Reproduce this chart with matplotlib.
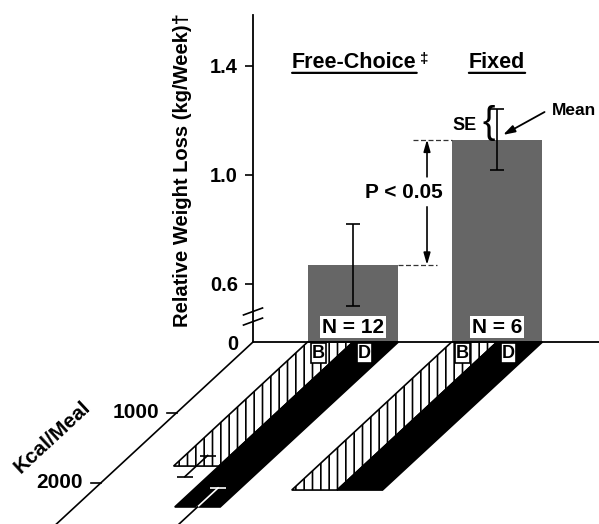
import matplotlib
matplotlib.use("Agg")
import matplotlib.pyplot as plt
from matplotlib.patches import Polygon
from matplotlib.transforms import Affine2D
import numpy as np

# weight loss per group (kg/week)
groups = ["Free-Choice", "Fixed"]
loss_mean = [0.67, 1.13]
loss_se = [0.15, 0.112]
n_subj = [12, 6]
# meal size (kcal/meal) for breakfast (B) and dinner (D)
bkf_kcal = [1760, 2100]
bkf_se = [150, 0]
din_kcal = [2340, 2100]
din_se = [270, 0]
yticks = [0.6, 1.0, 1.4]
kcal_ticks = [1000, 2000]

plt.rcParams["font.family"] = ["Liberation Sans", "DejaVu Sans"]
plt.rcParams["font.weight"] = "bold"
plt.rcParams["hatch.linewidth"] = 1.2

W, H = 599, 524
fig = plt.figure(figsize=(W / 100, H / 100), dpi=100)
ax = fig.add_axes([253 / W, (H - 342) / H, (W - 253) / W, (342 - 15) / H])

ybase = 0.387          # where the broken axis puts "0"
xlim = (-0.694, 1.708)
ylim = (ybase, 1.587)
px_x = (W - 253) / (xlim[1] - xlim[0])
px_y = (342 - 15) / (ylim[1] - ylim[0])

# oblique projection for the kcal/meal axis (goes down-left from the origin)
k = 0.0705             # px per kcal
slant = 1.08
depth = Affine2D(np.array([[1, -slant * k / px_x, 0],
                           [0, -k / px_y, ybase],
                           [0, 0, 1]])) + ax.transData

x = np.arange(len(groups))
w = 0.63
gray = "#666666"


def depth_err(xe, lo, hi, col):
    ax.plot([xe, xe], [lo, hi], transform=depth, color=col, lw=1.2, clip_on=False, zorder=3)


def depth_cap(xe, d, col):
    ax.plot([xe], [d], transform=depth, ls="none", marker="_", ms=11, mew=1.2,
            color=col, clip_on=False, zorder=3)


ax.bar(x, np.array(loss_mean) - ybase, bottom=ybase, width=w, color=gray, zorder=2)
ax.errorbar(x, loss_mean, yerr=loss_se, fmt="none", ecolor="black",
            elinewidth=1.2, capsize=4.7, capthick=1.2, zorder=3)

for i in range(len(groups)):
    ax.text(x[i], 0.442, f"N = {n_subj[i]}", ha="center", va="center", fontsize=15,
            bbox=dict(boxstyle="square,pad=0.08", fc="white", ec="none"), zorder=4)

# depth strips
for i in range(len(groups)):
    xl, xm, xr = x[i] - w / 2, x[i], x[i] + w / 2
    pb = Polygon([(xl, 0), (xm, 0), (xm, bkf_kcal[i]), (xl, bkf_kcal[i])],
                 closed=True, transform=depth, facecolor="white", edgecolor="black",
                 hatch="||", lw=1.2, clip_on=False, zorder=2)
    ax.add_patch(pb)
    pd = Polygon([(xm, 0), (xr, 0), (xr, din_kcal[i]), (xm, din_kcal[i])],
                 closed=True, transform=depth, facecolor="black", edgecolor="black",
                 lw=1.2, clip_on=False, zorder=2)
    ax.add_patch(pd)

    if bkf_se[i] > 0:
        xe = x[i] - w / 4
        depth_err(xe, bkf_kcal[i] - bkf_se[i], bkf_kcal[i] + bkf_se[i], "black")
        depth_cap(xe, bkf_kcal[i] - bkf_se[i], "black")
        depth_cap(xe, bkf_kcal[i] + bkf_se[i], "black")
    if din_se[i] > 0:
        # white where it sits on the black strip, black below it
        xe = x[i] + w / 4
        depth_err(xe, din_kcal[i] - din_se[i], din_kcal[i], "white")
        depth_cap(xe, din_kcal[i] - din_se[i], "white")
        depth_err(xe, din_kcal[i], din_kcal[i] + din_se[i], "black")
        depth_cap(xe, din_kcal[i] + din_se[i], "black")

    for lab, off in (("B", -0.24), ("D", 0.08)):
        ax.text(x[i] + off, ybase - 11 / px_y, lab, ha="center", va="center", fontsize=13,
                bbox=dict(boxstyle="square,pad=0.06", fc="white", ec="black", lw=1.2), zorder=5)

# kcal/meal axis
xa = xlim[0]
ax.plot([xa, xa], [0, 2700], transform=depth, color="black", lw=1.2, clip_on=False)
for t in kcal_ticks:
    ax.plot([xa - 10 / px_x, xa], [t, t], transform=depth, color="black", lw=1.2, clip_on=False)
    ax.annotate(f"{t}", xy=(xa, t), xycoords=depth, xytext=(-18 * 0.72, 0),
                textcoords="offset points", ha="right", va="center", fontsize=15)
ax.annotate("Kcal/Meal", xy=(xa, 1348), xycoords=depth, xytext=(-98 * 0.72, 0),
            textcoords="offset points", ha="center", va="center", fontsize=15,
            rotation=42.8, rotation_mode="anchor")

# group titles
t1 = ax.text(0.01, 1.393, groups[0], ha="center", va="baseline", fontsize=15.5)
ax.annotate("\u2021", xy=(1, 1), xycoords=t1, xytext=(2, 0), textcoords="offset points",
            ha="left", va="top", fontsize=11)
t2 = ax.text(1.0, 1.393, groups[1], ha="center", va="baseline", fontsize=15.5)
for t in (t1, t2):
    ax.annotate("", xy=(0, 0.0), xycoords=t, xytext=(1, 0.0), textcoords=t,
                arrowprops=dict(arrowstyle="-", lw=1.6, color="black", shrinkA=0, shrinkB=0))

# significance bracket
ax.plot([x[0] + w / 2, 0.583], [loss_mean[0]] * 2, ls=(0, (4, 2)), lw=0.9, color="#333333")
ax.plot([0.417, x[1] - w / 2], [loss_mean[1]] * 2, ls=(0, (4, 2)), lw=0.9, color="#333333")
head = dict(arrowstyle="-|>,head_length=0.7,head_width=0.2", lw=1.2, color="black",
            shrinkA=0, shrinkB=0)
ax.annotate("", xy=(0.514, loss_mean[1]), xytext=(0.514, 0.993), arrowprops=head)
ax.annotate("", xy=(0.514, loss_mean[0]), xytext=(0.514, 0.883), arrowprops=head)
ax.text(0.35, 0.937, "P < 0.05", ha="center", va="center", fontsize=15)

# SE / Mean key on the Fixed bar
ax.text(0.778, 1.18, "SE", ha="center", va="center", fontsize=13)
ax.text(0.944, 1.19, "{", ha="center", va="center", fontsize=27, fontweight="normal")
ax.annotate("", xy=(1.042, 1.147), xytext=(1.33, 1.231),
            arrowprops=dict(arrowstyle="-|>,head_length=0.7,head_width=0.22", lw=1.3,
                            color="black", shrinkA=0, shrinkB=0))
ax.text(1.38, 1.235, "Mean", ha="left", va="center", fontsize=12.5)

# axis break marks
for yb in (0.499, 0.462):
    ax.plot([xa - 0.066, xa + 0.066], [yb - 0.0128, yb + 0.0128], color="black",
            lw=1.2, clip_on=False)

ax.set_yticks([ybase] + yticks)
ax.set_yticklabels(["0"] + [f"{v:.1f}" for v in yticks], fontsize=14.5, fontweight="bold")
ax.yaxis.get_major_ticks()[0].tick1line.set_visible(False)
ax.tick_params(axis="y", direction="out", length=5.8, width=1.2, pad=5)
ax.set_xticks([])
for s in ("top", "right"):
    ax.spines[s].set_visible(False)
for s in ("left", "bottom"):
    ax.spines[s].set_linewidth(1.3)
ax.set_xlim(*xlim)
ax.set_ylim(*ylim)

fig.text(183 / W, 1 - 170 / H, "Relative Weight Loss (kg/Week)\u2020", rotation=90,
         ha="center", va="center", fontsize=14.5, fontweight="bold")

fig.savefig("out.png", dpi=100)
